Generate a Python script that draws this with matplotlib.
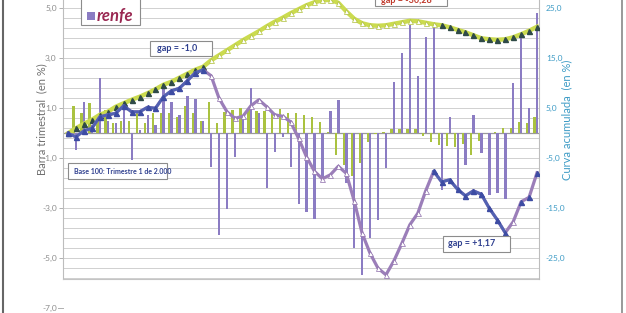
import numpy as np
import matplotlib.pyplot as plt
import matplotlib.transforms as mtransforms
from matplotlib.patches import Rectangle
from matplotlib.lines import Line2D

plt.rcParams['font.family'] = ['Lato', 'DejaVu Sans']

W, H = 626, 313

# quarterly change in %, left axis (quarters 1..59 after the base quarter)
sector_bars = [1.10, 0.80, 1.20, 0.70, 0.95, 0.40, 0.50, 0.50, 0.80, 0.40,
               0.80, 0.80, 0.80, 0.65, 1.10, 0.80, 0.50, 1.27, 0.40, 0.85,
               0.95, 1.00, 0.97, 0.90, 0.90, 0.90, 0.96, 0.80, 0.80, 0.73,
               0.67, 0.47, 0.05, -0.85, -1.25, -1.70, -1.20, -0.33, -0.03, 0.07,
               0.16, 0.16, 0.16, 0.16, -0.10, -0.33, -0.47, -0.50, -0.55, -0.42,
               -0.85, -0.32, 0.00, 0.04, 0.22, 0.22, 0.45, 0.43, 0.65]
renfe_bars = [-0.67, 1.26, 0.35, 2.20, 0.50, 0.40, 1.00, -1.07, 0.15, 0.75,
              0.35, 1.87, 1.27, 0.73, 1.50, 1.36, 0.50, -1.33, -4.07, -3.04,
              -0.93, 0.60, 1.80, 0.80, -2.20, -0.73, -0.15, -1.33, -2.83, -3.16,
              -3.42, -1.78, 0.90, 1.32, -2.00, -4.60, -5.67, -4.20, -3.47, -1.40,
              2.07, 3.23, 4.33, 2.29, 3.84, 4.24, -2.27, 0.64, -2.13, -1.27,
              0.75, -0.80, -2.47, -2.40, -2.64, 2.00, 3.87, 1.00, 4.80]

# cumulative curve in %, right axis (point 0 = base quarter)
sector_curve = [0.0, 1.0, 1.9, 2.7, 3.7, 4.3, 5.3, 6.0, 6.7, 7.3,
                8.0, 8.8, 9.7, 10.3, 11.1, 11.9, 12.7, 13.3, 14.6, 15.6,
                16.6, 17.6, 18.6, 19.5, 20.4, 21.4, 22.3, 23.1, 24.0, 24.8,
                25.6, 26.2, 26.6, 26.7, 26.1, 24.4, 22.9, 22.0, 21.6, 21.5,
                21.6, 21.9, 22.2, 22.5, 22.4, 22.1, 21.8, 21.6, 21.2, 20.7,
                20.2, 19.6, 19.0, 18.8, 18.7, 18.8, 19.2, 19.8, 20.5, 21.3]
renfe_curve = [0.0, -0.7, 0.5, 1.0, 3.3, 3.7, 4.0, 5.5, 4.3, 4.3,
               5.2, 5.0, 7.3, 8.5, 9.0, 10.5, 12.1, 12.7, 11.5, 7.0,
               4.3, 3.0, 3.4, 5.5, 6.7, 5.3, 3.7, 3.4, 2.3, -1.0,
               -4.7, -7.6, -9.1, -8.3, -6.6, -8.0, -13.5, -20.0, -24.0, -27.0,
               -28.3, -25.5, -22.0, -18.3, -16.0, -11.5, -7.6, -9.7, -9.3, -11.2,
               -12.5, -11.5, -12.2, -15.0, -17.3, -19.9, -17.7, -13.7, -12.8, -7.9]

left_ticks = [5, 3, 1, -1, -3, -5]
left_extra_tick = -7
right_ticks = [25, 15, 5, -5, -15, -25]

GREEN_BAR = '#aac240'
PURPLE_BAR = '#8b7cc3'
GREEN_LINE = '#cbdb4f'
MAUVE_LINE = '#9b7eb9'
BLUE_LINE = '#5262b2'
TEAL = '#3f9cc6'
TXT_BLUE = '#2e3f8f'


def comma(v):
    return f'{v:.1f}'.replace('.', ',')


def fx(x):
    return x / W


def fy(y):
    return 1 - y / H


fig = plt.figure(figsize=(W / 100, H / 100), dpi=100)
ax = fig.add_axes([63 / W, 1 - 279.3 / H, 476 / W, 301 / H])
ax2 = ax.twinx()

# bars
q = np.arange(1, len(renfe_bars) + 1)
ax.bar(q - 0.3, sector_bars, width=0.29, color=GREEN_BAR, zorder=3)
ax.bar(q + 0.02, renfe_bars, width=0.29, color=PURPLE_BAR, zorder=3)
ax.axhline(0, color='#9a9a9a', lw=0.9, zorder=2)

ax.set_xlim(-0.63, 59.25)
ax.set_ylim(-5.84, 6.2)
ax2.set_ylim(-29.2, 31)
ax.set_xticks([])

ax.set_yticks(left_ticks)
ax.set_yticklabels([comma(v) for v in left_ticks])
ax.set_yticks(np.arange(-5.8, 6.0, 0.4), minor=True)
ax.grid(which='both', axis='y', color='#d0d0d0', lw=0.7)
ax.set_axisbelow(True)
ax.tick_params(axis='y', which='major', length=3, width=0.7, color='#b0b0b0',
               labelsize=6, labelcolor='#8c8c8c', pad=1.5)
ax.tick_params(axis='y', which='minor', length=0)

ax2.set_yticks(right_ticks)
ax2.set_yticklabels([comma(v) for v in right_ticks])
ax2.tick_params(axis='y', length=0, labelsize=6, labelcolor=TEAL, pad=5)

ax.spines['top'].set_visible(False)
ax.spines['right'].set_visible(False)
ax.spines['left'].set_color('#bdbdbd')
ax.spines['bottom'].set_color('#c4c4c4')
for s in ['top', 'left', 'bottom']:
    ax2.spines[s].set_visible(False)
ax2.spines['right'].set_color('#bdbdbd')

# extra left tick below the plot area
trans = mtransforms.blended_transform_factory(ax.transAxes, ax.transData)
ax.text(-6 / 476, left_extra_tick, comma(left_extra_tick), transform=trans,
        ha='right', va='center', fontsize=6, color='#8c8c8c', clip_on=False)
ax.plot([-5 / 476, 0], [left_extra_tick] * 2, transform=trans,
        color='#b0b0b0', lw=0.7, clip_on=False)

# cumulative curves
k = np.arange(len(renfe_curve))
sc = np.array(sector_curve)
rc = np.array(renfe_curve)
ax2.plot(k, sc, color=GREEN_LINE, lw=3.2, marker='^', ms=3.6, mfc='white',
         mec='#aebf3a', mew=0.5, zorder=3)
for seg in (slice(0, 18), slice(47, 60)):
    ax2.plot(k[seg], sc[seg], ls='none', marker='^', ms=3.6,
             mfc='#2f4a48', mec='#2f4a48', zorder=4)
ax2.plot(k, rc, color=MAUVE_LINE, lw=2.3, marker='^', ms=3.6, mfc='white',
         mec='#8b6ba9', mew=0.5, zorder=5)
for seg in (slice(0, 18), slice(46, 56)):
    ax2.plot(k[seg], rc[seg], color=BLUE_LINE, lw=2.1, marker='^', ms=3.6,
             mfc='#3d4ca3', mec='#3d4ca3', zorder=6)
ax2.plot(k[57:], rc[57:], ls='none', marker='^', ms=3.6,
         mfc='#3d4ca3', mec='#3d4ca3', zorder=6)

# axis titles
fig.text(fx(42), fy(119), 'Barra trimestral  (en %)', rotation=90,
         ha='center', va='center', fontsize=8, color='#707070')
fig.text(fx(567), fy(120), 'Curva acumulada  (en %)', rotation=90,
         ha='center', va='center', fontsize=8, color=TEAL)


def box(x0, y0, x1, y1):
    fig.add_artist(Rectangle((fx(x0), fy(y1)), (x1 - x0) / W, (y1 - y0) / H,
                             transform=fig.transFigure, facecolor='white',
                             edgecolor='#8c8c8c', lw=0.8, zorder=5))


# legend (upper entry is cut off by the top edge)
box(81, -30, 140, 25)
fig.add_artist(Rectangle((fx(87), fy(20)), 8 / W, 8 / H, transform=fig.transFigure,
                         facecolor=PURPLE_BAR, edgecolor='none', zorder=6))
fig.text(fx(97), fy(16), 'renfe', ha='left', va='center', fontsize=12,
         fontweight='bold', fontstyle='italic', color='#9a2852', zorder=6)

# annotation boxes
box(150, 41, 212, 56)
fig.text(fx(157), fy(48.5), 'gap = -1,0', ha='left', va='center', fontsize=6.5,
         fontweight='bold', color=TXT_BLUE, zorder=6)
box(375, -15, 447, 6)
fig.text(fx(381), fy(0.5), 'gap = -30,28', ha='left', va='center', fontsize=6.5,
         fontweight='bold', color='#c0392b', zorder=6)
box(443, 236, 510, 252)
fig.text(fx(448), fy(244), 'gap = +1,17', ha='left', va='center', fontsize=6.5,
         fontweight='bold', color=TXT_BLUE, zorder=6)
box(68, 163, 167, 179)
fig.text(fx(74), fy(171), 'Base 100: Trimestre 1 de 2.000', ha='left', va='center',
         fontsize=5, fontweight='bold', color=TXT_BLUE, zorder=6)

# page frame of the scan
fig.add_artist(Line2D([fx(2.5)] * 2, [0, 1], transform=fig.transFigure,
                      color='#666666', lw=1.5))
fig.add_artist(Line2D([fx(621.7)] * 2, [0, 1], transform=fig.transFigure,
                      color='#888888', lw=1.2))

fig.savefig('out.png', dpi=100)
